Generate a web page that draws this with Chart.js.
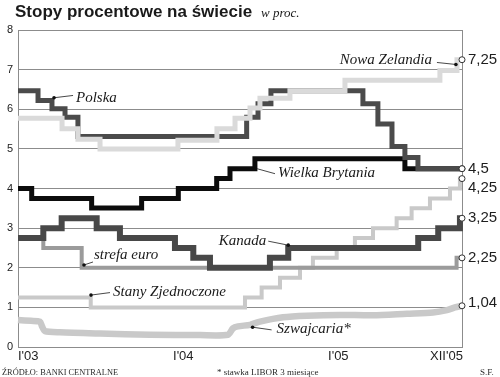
<!DOCTYPE html>
<html><head><meta charset="utf-8">
<script src="https://cdn.jsdelivr.net/npm/chart.js@4.4.1/dist/chart.umd.min.js"></script>
<style>html,body{margin:0;padding:0;background:#fff}</style>
</head><body>
<canvas id="c" width="500" height="377"></canvas>
<script>
// ---- axis / ticks (x in months since I'03, chart's own scale) ----
const xMax = 34.37;
const xTickMonths = [0, 12, 24, 31.9];
const xTickLabels = ["I'03", "I'04", "I'05", "XII'05"];
const yMin = 0, yMax = 8;

// ---- step series: month where a level starts, and the level ----
const nzX = [0, 3.41, 4.64, 6.35, 12.38, 15.40, 16.80, 17.96, 18.73, 21.05, 25.31, 32.66, 33.98, 34.37];
const nzY = [5.77, 5.51, 5.24, 5.0, 5.22, 5.51, 5.77, 6.03, 6.28, 6.47, 6.73, 6.98, 7.25, 7.25];

const plX = [0, 1.55, 2.63, 3.64, 4.64, 17.70, 18.58, 19.58, 26.70, 27.86, 28.95, 29.95, 30.96, 34.37];
const plY = [6.47, 6.22, 6.01, 5.8, 5.31, 5.8, 6.14, 6.47, 6.14, 5.63, 5.06, 4.78, 4.5, 4.5];

const ukX = [0, 1.06, 5.70, 9.57, 12.41, 15.38, 16.41, 18.34, 29.95, 34.37];
const ukY = [4.0, 3.75, 3.51, 3.75, 4.0, 4.25, 4.5, 4.75, 4.5, 4.5];

const caX = [0, 1.96, 3.38, 6.09, 7.89, 12.15, 13.57, 14.86, 19.50, 20.92, 30.98, 32.53, 34.21, 34.37];
const caY = [2.75, 3.0, 3.25, 3.0, 2.75, 2.5, 2.25, 2.0, 2.25, 2.5, 2.75, 3.0, 3.25, 3.25];

const euX = [0, 1.96, 4.93, 33.95, 34.37];
const euY = [2.75, 2.5, 2.0, 2.25, 2.25];

const usX = [0, 5.63, 17.57, 18.86, 20.28, 21.83, 22.83, 24.67, 26.08, 27.48, 29.31, 30.47, 31.89, 33.44, 34.21, 34.37];
const usY = [1.25, 1.0, 1.25, 1.5, 1.75, 2.0, 2.25, 2.5, 2.75, 3.0, 3.25, 3.5, 3.75, 4.0, 4.25, 4.25];

// ---- Swiss 3M LIBOR (continuous) ----
const chX = [0, 1.0, 1.70, 1.86, 2.09, 3.25, 6.35, 10.22, 14.09, 16.25, 16.64, 17.03, 17.96, 18.73, 20.51, 22.37, 24.92, 27.48, 30.11, 32.12, 33.20, 33.82, 34.37];
const chY = [0.68, 0.66, 0.64, 0.52, 0.40, 0.37, 0.34, 0.31, 0.30, 0.31, 0.47, 0.52, 0.56, 0.64, 0.75, 0.79, 0.81, 0.80, 0.84, 0.87, 0.93, 1.00, 1.04];

const endValues = [7.25, 4.5, 4.25, 3.25, 2.25, 1.04];

const pts = (xs, ys) => xs.map((x, i) => ({x: x, y: ys[i]}));

const common = {
  fill: false,
  borderCapStyle: 'butt',
  borderJoinStyle: 'miter',
  clip: false,
  pointRadius: ctx => ctx.dataIndex === ctx.dataset.data.length - 1 ? 3 : 0,
  pointBackgroundColor: '#ffffff',
  pointBorderColor: '#333333',
  pointBorderWidth: 1,
  pointHoverRadius: 0
};

const datasets = [
  Object.assign({label: 'Nowa Zelandia', data: pts(nzX, nzY), borderColor: '#dadada', borderWidth: 5, stepped: 'before', order: 0}, common),
  Object.assign({label: 'Polska', data: pts(plX, plY), borderColor: '#4b4b4b', borderWidth: 5, stepped: 'before', order: 1}, common),
  Object.assign({label: 'Wielka Brytania', data: pts(ukX, ukY), borderColor: '#0c0c0c', borderWidth: 5, stepped: 'before', order: 2}, common),
  Object.assign({label: 'Kanada', data: pts(caX, caY), borderColor: '#484848', borderWidth: 6, stepped: 'before', order: 3}, common),
  Object.assign({label: 'strefa euro', data: pts(euX, euY), borderColor: '#9b9b9b', borderWidth: 4, stepped: 'before', order: 4}, common),
  Object.assign({label: 'Stany Zjednoczone', data: pts(usX, usY), borderColor: '#c9c9c9', borderWidth: 4, stepped: 'before', order: 5}, common),
  Object.assign({label: 'Szwajcaria*', data: pts(chX, chY), borderColor: '#c9c9c9', borderWidth: 6.5, tension: 0.25, order: 6}, common)
];

const notes = [
  {text: 'Polska', m: 2.79, v: 6.29, lx: 19, ly: -2.3, tx: 22, ty: 4.5, align: 'left', dot: true},
  {text: 'Nowa Zelandia', m: 33.9, v: 7.13, lx: -19, ly: -2, tx: -24, ty: -0.7, align: 'right', dot: true},
  {text: 'Wielka Brytania', m: 18.5, v: 4.5, lx: 18, ly: 5, tx: 21, ty: 8.4, align: 'left', dot: false},
  {text: 'Kanada', m: 20.92, v: 2.57, lx: -20, ly: -4, tx: -22, ty: 0, align: 'right', dot: true},
  {text: 'strefa euro', m: 5.11, v: 2.07, lx: 9, ly: -3, tx: 10, ty: -5.7, align: 'left', dot: true},
  {text: 'Stany Zjednoczone', m: 5.65, v: 1.31, lx: 19, ly: -2.5, tx: 22, ty: 1, align: 'left', dot: true},
  {text: 'Szwajcaria*', m: 18.16, v: 0.5, lx: 19, ly: 2.7, tx: 24, ty: 6, align: 'left', dot: true}
];

const deco = {
  id: 'deco',
  beforeDatasetsDraw(chart) {
    const {ctx, chartArea: a} = chart;
    ctx.save();
    ctx.strokeStyle = '#8c8c8c';
    ctx.lineWidth = 1;
    ctx.beginPath();
    ctx.moveTo(a.right + 0.5, a.top);
    ctx.lineTo(a.right + 0.5, a.bottom);
    ctx.stroke();
    ctx.restore();
  },
  afterDatasetsDraw(chart) {
    const {ctx, chartArea: a} = chart;
    const xs = chart.scales.x, ys = chart.scales.y;
    ctx.save();
    // annotations
    ctx.font = 'italic 15px "Liberation Serif", serif';
    ctx.fillStyle = '#1a1a1a';
    ctx.textBaseline = 'alphabetic';
    notes.forEach(n => {
      const px = xs.getPixelForValue(n.m), py = ys.getPixelForValue(n.v);
      ctx.strokeStyle = '#333';
      ctx.lineWidth = 0.9;
      ctx.beginPath();
      ctx.moveTo(px, py);
      ctx.lineTo(px + n.lx, py + n.ly);
      ctx.stroke();
      if (n.dot) {
        ctx.beginPath();
        ctx.arc(px, py, 1.8, 0, Math.PI * 2);
        ctx.fillStyle = '#111';
        ctx.fill();
      }
      ctx.fillStyle = '#1a1a1a';
      ctx.textAlign = n.align;
      ctx.fillText(n.text, px + n.tx, py + n.ty);
    });
    // end labels
    const dy = {'4.25': 9, '1.04': -3};
    ctx.font = '15px "Liberation Sans", Arial, sans-serif';
    ctx.fillStyle = '#1e1e1e';
    ctx.textAlign = 'left';
    ctx.textBaseline = 'middle';
    endValues.forEach(v => {
      const y = ys.getPixelForValue(v) + (dy[String(v)] || 0);
      ctx.fillText(String(v).replace('.', ','), a.right + 6, y);
    });
    ctx.restore();
  },
  afterDraw(chart) {
    const {ctx} = chart;
    ctx.save();
    ctx.fillStyle = '#1a1a1a';
    ctx.textAlign = 'left';
    ctx.textBaseline = 'alphabetic';
    ctx.font = 'bold 17px "Liberation Sans", Arial, sans-serif';
    ctx.fillText('Stopy procentowe na świecie', 15, 16.5);
    ctx.font = 'italic 13px "Liberation Serif", serif';
    ctx.fillText('w proc.', 261, 16.5);
    ctx.fillStyle = '#2a2a2a';
    ctx.font = '9px "Liberation Serif", serif';
    ctx.fillText('ŹRÓDŁO: BANKI CENTRALNE', 2, 375, 116);
    ctx.fillText('* stawka LIBOR 3 miesiące', 217, 375, 105);
    ctx.fillText('S.F.', 480, 375);
    ctx.restore();
  }
};

new Chart(document.getElementById('c'), {
  type: 'line',
  data: {datasets: datasets},
  plugins: [deco],
  options: {
    responsive: false,
    animation: false,
    devicePixelRatio: 1,
    layout: {padding: {top: 30, right: 38, bottom: 0, left: 0}},
    plugins: {legend: {display: false}, tooltip: {enabled: false}, title: {display: false}},
    scales: {
      x: {
        type: 'linear',
        min: 0,
        max: xMax,
        grid: {display: false, drawTicks: false},
        border: {display: true, color: '#8c8c8c', width: 1},
        afterBuildTicks: s => { s.ticks = xTickMonths.map(v => ({value: v})); },
        afterFit: s => { s.height = 30; s.paddingLeft = 0; s.paddingRight = 0; },
        ticks: {
          align: 'start',
          autoSkip: false,
          maxRotation: 0,
          padding: 2,
          color: '#222',
          font: {family: '"Liberation Sans", Arial, sans-serif', size: 13},
          callback: (v, i) => xTickLabels[i]
        }
      },
      y: {
        min: yMin,
        max: yMax,
        grid: {color: '#8c8c8c', lineWidth: 1, drawTicks: false},
        border: {display: true, color: '#8c8c8c', width: 1},
        afterFit: s => { s.width = 18; },
        ticks: {
          stepSize: 1,
          padding: 5,
          color: '#222',
          font: {family: '"Liberation Sans", Arial, sans-serif', size: 11}
        }
      }
    }
  }
});
</script>
</body></html>
